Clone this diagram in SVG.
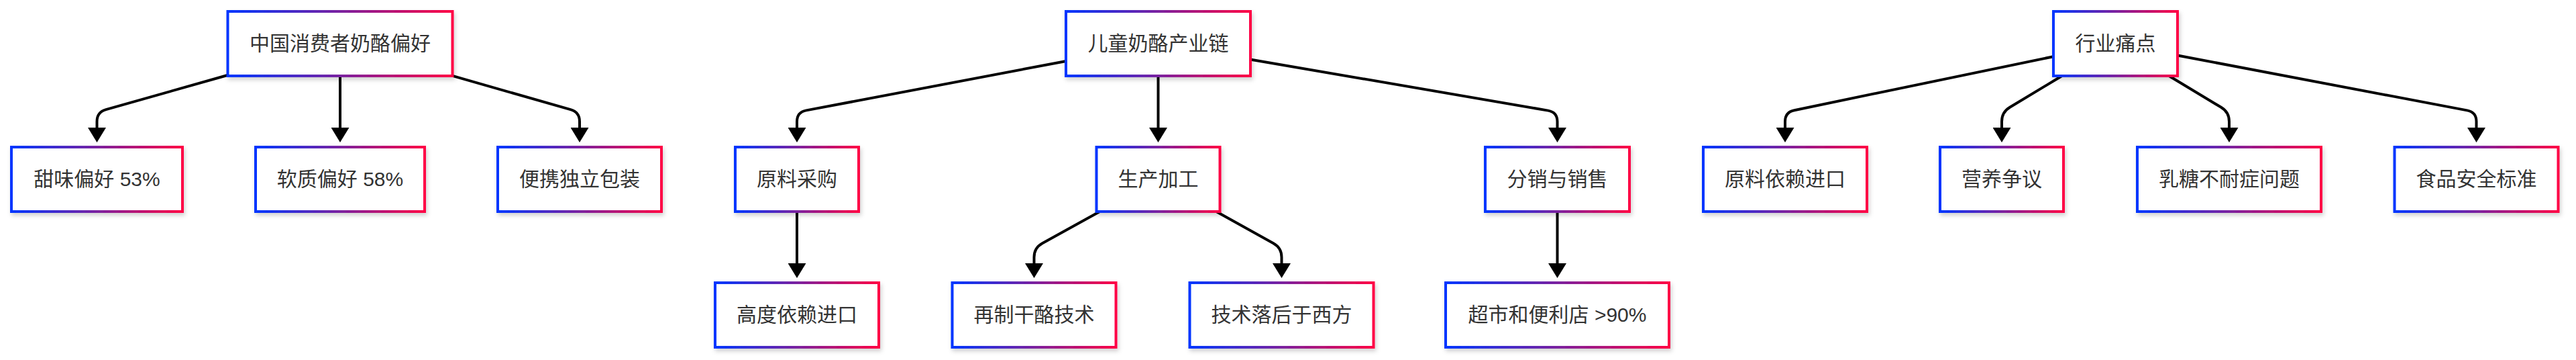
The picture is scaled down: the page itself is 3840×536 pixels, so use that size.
<svg xmlns="http://www.w3.org/2000/svg" width="3840" height="536" viewBox="0 0 3840 536">
<defs>
<linearGradient id="g" x1="0" y1="0" x2="1" y2="0">
<stop offset="0" stop-color="#0036ff"/>
<stop offset="0.5" stop-color="#7a22a0"/>
<stop offset="1" stop-color="#ff0044"/>
</linearGradient>
<filter id="sh" x="-10%" y="-20%" width="120%" height="150%">
<feDropShadow dx="2" dy="4" stdDeviation="3" flood-color="#000" flood-opacity="0.18"/>
</filter>
<marker id="arr" viewBox="0 0 22 27" refX="0" refY="13.5" markerWidth="22" markerHeight="27" markerUnits="userSpaceOnUse" orient="auto">
<path d="M0,0 L22,13.5 L0,27 z" fill="#000"/>
</marker>
<style>
.n rect{fill:#fff;stroke:url(#g);stroke-width:4;filter:url(#sh)}
.n text{font-family:"Liberation Sans","Noto Sans CJK SC",sans-serif;font-size:30px;fill:#333;text-anchor:middle}
.e path{fill:none;stroke:#000;stroke-width:4;marker-end:url(#arr)}
</style>
</defs>
<g id="connectors" class="e">
<path d="M339,112 L158,163.2 Q144.5,167 144.5,181 L144.5,190"/>
<path d="M507,113 L507,190"/>
<path d="M674.5,112.9 L850.5,163.2 Q864,167 864,181 L864,190"/>
<path d="M1588,91.2 L1201.8,164.4 Q1188,167 1188,181 L1188,190"/>
<path d="M1726.5,113 L1726.5,190"/>
<path d="M1865,88.7 L2307.7,164.6 Q2321.5,167 2321.5,181 L2321.5,190"/>
<path d="M3061,84.2 L2674.7,164.2 Q2661,167 2661,181 L2661,190"/>
<path d="M3073.7,113 L2996,159.8 Q2984,167 2984,181 L2984,190"/>
<path d="M3233.3,113 L3311,159.8 Q3323,167 3323,181 L3323,190"/>
<path d="M3246,82.5 L3677.7,164.4 Q3691.5,167 3691.5,181 L3691.5,190"/>
<path d="M1188,315 L1188,392"/>
<path d="M1639.4,315 L1553.8,362.2 Q1541.5,369 1541.5,383 L1541.5,392"/>
<path d="M1813.1,315 L1898.2,362.2 Q1910.5,369 1910.5,383 L1910.5,392"/>
<path d="M2321.5,315 L2321.5,392"/>
</g>
<g id="n-a" class="n"><rect x="339.5" y="17" width="335" height="96"/><text x="507" y="75">中国消费者奶酪偏好</text></g>
<g id="n-b" class="n"><rect x="1589" y="17" width="275" height="96"/><text x="1726.5" y="75">儿童奶酪产业链</text></g>
<g id="n-c" class="n"><rect x="3061" y="17" width="185" height="96"/><text x="3153.5" y="75">行业痛点</text></g>
<g id="n-a1" class="n"><rect x="17" y="219" width="255" height="96"/><text x="144.5" y="277">甜味偏好 53%</text></g>
<g id="n-a2" class="n"><rect x="381" y="219" width="252" height="96"/><text x="507" y="277">软质偏好 58%</text></g>
<g id="n-a3" class="n"><rect x="742" y="219" width="244" height="96"/><text x="864" y="277">便携独立包装</text></g>
<g id="n-b1" class="n"><rect x="1096" y="219" width="184" height="96"/><text x="1188" y="277">原料采购</text></g>
<g id="n-b2" class="n"><rect x="1634.5" y="219" width="184" height="96"/><text x="1726.5" y="277">生产加工</text></g>
<g id="n-b3" class="n"><rect x="2214" y="219" width="215" height="96"/><text x="2321.5" y="277">分销与销售</text></g>
<g id="n-c1" class="n"><rect x="2539" y="219" width="244" height="96"/><text x="2661" y="277">原料依赖进口</text></g>
<g id="n-c2" class="n"><rect x="2892" y="219" width="184" height="96"/><text x="2984" y="277">营养争议</text></g>
<g id="n-c3" class="n"><rect x="3186" y="219" width="274" height="96"/><text x="3323" y="277">乳糖不耐症问题</text></g>
<g id="n-c4" class="n"><rect x="3569.5" y="219" width="244" height="96"/><text x="3691.5" y="277">食品安全标准</text></g>
<g id="n-b1a" class="n"><rect x="1066" y="421" width="244" height="96"/><text x="1188" y="479">高度依赖进口</text></g>
<g id="n-b2a" class="n"><rect x="1419.5" y="421" width="244" height="96"/><text x="1541.5" y="479">再制干酪技术</text></g>
<g id="n-b2b" class="n"><rect x="1773.5" y="421" width="274" height="96"/><text x="1910.5" y="479">技术落后于西方</text></g>
<g id="n-b3a" class="n"><rect x="2155" y="421" width="333" height="96"/><text x="2321.5" y="479">超市和便利店 &gt;90%</text></g>
</svg>
